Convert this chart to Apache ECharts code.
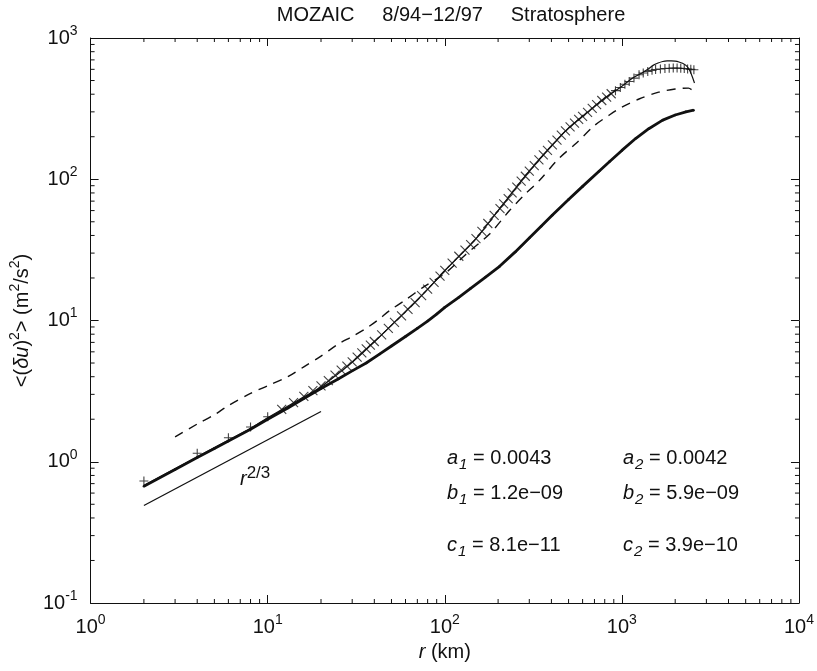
<!DOCTYPE html>
<html>
<head>
<meta charset="utf-8" />
<title>MOZAIC structure function</title>
<script src="https://cdn.jsdelivr.net/npm/echarts@6/dist/echarts.min.js"></script>
<style>
  * { margin: 0; padding: 0; }
  body { background: #fff; }
  #chart { width: 817px; height: 671px; }
</style>
</head>
<body>
<div id="chart"></div>
<script>
// --- data (r in km, values in m^2/s^2) ---
var upperR = [2, 4, 6, 8, 10, 12, 14, 16, 18, 20, 22, 24, 26, 28, 30, 32, 34, 36, 38, 40,
  44, 48, 52, 57, 62, 68, 74, 80, 87, 94, 100, 110, 120, 130, 140, 150, 162, 175, 190, 205,
  215, 228, 240, 255, 270, 285, 300, 320, 340, 360, 380, 405, 430, 455, 480, 510, 540, 570, 600, 640,
  680, 720, 770, 820, 870, 920, 980, 1040, 1100, 1170, 1250, 1320, 1400, 1480, 1550, 1650, 1750, 1850, 1950, 2050,
  2150, 2250, 2350, 2450, 2550];
var upperV = [0.73, 1.15, 1.48, 1.76, 2.08, 2.35, 2.62, 2.9, 3.19, 3.45, 3.75, 4.1, 4.45, 4.75, 5.1, 5.5, 5.9, 6.3, 6.7, 7.1,
  7.9, 8.8, 9.7, 10.8, 12.0, 13.4, 15.0, 16.7, 18.6, 20.6, 22.6, 25.5, 28.5, 31.5, 34.5, 38, 42.8, 48.6, 55.5, 62,
  67, 73, 80, 88, 97, 105, 114, 125, 137, 149, 160, 175, 189, 205, 220, 235, 250, 265, 279, 298,
  318, 338, 361, 382, 403, 424, 446, 470, 492, 520, 549, 565, 580, 590, 598, 604, 608, 610, 612, 612,
  611, 608, 604, 600, 596];

var fitR = [2, 4, 6, 8, 10, 15, 20, 30, 40, 60, 80, 100, 150, 200, 300, 400, 500, 600, 700, 800,
  900, 1000, 1150, 1300, 1400, 1500, 1600, 1700, 1800, 1900, 2000, 2100, 2200, 2300, 2400, 2480, 2570];
var fitV = [0.68, 1.08, 1.42, 1.72, 2.05, 2.75, 3.4, 5.05, 7.05, 11.6, 16.6, 22.5, 38, 60, 114, 172, 230, 279, 328, 375,
  415, 455, 520, 565, 600, 640, 665, 682, 688, 688, 685, 676, 662, 640, 600, 545, 480];

var lowerR = [2, 3, 4, 5, 6, 8, 10, 13, 16, 20, 25, 30, 36, 43, 50, 60, 70, 80, 90, 100,
  120, 140, 170, 204, 250, 300, 350, 404, 500, 600, 743, 850, 1000, 1200, 1419, 1700, 2000, 2300, 2540];
var lowerV = [0.67, 0.88, 1.07, 1.24, 1.40, 1.70, 2.0, 2.4, 2.8, 3.3, 3.85, 4.4, 5.0, 5.8, 6.6, 7.7, 8.8, 9.9, 11.1, 12.4,
  14.6, 16.9, 20.3, 24.2, 30.6, 38.4, 46.5, 55.6, 72, 89, 114, 133, 160, 195, 228, 262, 285, 300, 308];

var dashR = [3, 4, 5, 6, 8, 10, 13, 16, 20, 25, 30, 36, 42, 49, 60, 75, 100, 130, 179, 232,
  280, 342, 440, 552, 700, 850, 1000, 1250, 1614, 2000, 2378, 2480];
var dashV = [1.5, 1.85, 2.15, 2.5, 3.05, 3.45, 4.0, 4.7, 5.6, 6.8, 7.7, 8.8, 10.1, 11.8, 14, 17.1, 21.5, 29, 41, 60,
  77, 98, 140, 180, 240, 285, 324, 370, 414, 435, 442, 430];

var slopeR = [2, 20];
var slopeV = [0.49, 2.27];

var minorSteps = [2, 3, 4, 5, 6, 7, 8, 9];
var decadesX = [1, 10, 100, 1000];
var decadesY = [0.1, 1, 10, 100];

var fitParams = [
  ['a', '1', '0.0043', 'a', '2', '0.0042'],
  ['b', '1', '1.2e\u221209', 'b', '2', '5.9e\u221209'],
  ['c', '1', '8.1e\u221211', 'c', '2', '3.9e\u221210']
];

function pairs(xs, ys) {
  return xs.map(function (x, i) { return [x, ys[i]]; });
}

var FONT = 'Liberation Sans, Arial, sans-serif';
var INK = '#111';

// minor tick positions (2..9 per decade) on the four sides
var minorData = [];
decadesX.forEach(function (d) {
  minorSteps.forEach(function (m) {
    minorData.push([d * m, 0.1, 0]);
    minorData.push([d * m, 1000, 1]);
  });
});
decadesY.forEach(function (d) {
  minorSteps.forEach(function (m) {
    minorData.push([1, d * m, 2]);
    minorData.push([10000, d * m, 3]);
  });
});

function powLabel(v) {
  return '{b|10}{s|' + Math.round(Math.log10(v)) + '}';
}
var powRich = {
  b: { fontSize: 20, fontFamily: FONT, color: INK },
  s: { fontSize: 14, fontFamily: FONT, color: INK, padding: [0, 0, 14, 0] }
};

var plusPath = 'path://M0,5L10,5M5,0L5,10';
var crossPath = 'path://M0,0L10,10M10,0L0,10';

var chart = echarts.init(document.getElementById('chart'));

var option = {
  animation: false,
  title: {
    text: 'MOZAIC     8/94\u221212/97     Stratosphere',
    left: 446,
    top: 0,
    textAlign: 'center',
    textStyle: { fontSize: 20, fontWeight: 'normal', fontFamily: FONT, color: INK }
  },
  grid: { left: 89, right: 15, top: 38, bottom: 68 },
  xAxis: [{
    type: 'log', logBase: 10, min: 1, max: 10000,
    position: 'bottom',
    axisLine: { lineStyle: { color: INK, width: 1 } },
    axisTick: { inside: true, length: 8, lineStyle: { color: INK } },
    splitLine: { show: false },
    axisLabel: { formatter: powLabel, rich: powRich, margin: 10 },
    name: '{i|r}{n| (km)}',
    nameLocation: 'middle',
    nameGap: 39,
    nameTextStyle: {
      rich: {
        i: { fontSize: 20, fontStyle: 'italic', fontFamily: FONT, color: INK },
        n: { fontSize: 20, fontFamily: FONT, color: INK }
      }
    }
  }, {
    type: 'log', logBase: 10, min: 1, max: 10000,
    position: 'top',
    axisLine: { lineStyle: { color: INK, width: 1 } },
    axisTick: { inside: true, length: 8, lineStyle: { color: INK } },
    axisLabel: { show: false },
    splitLine: { show: false }
  }],
  yAxis: [{
    type: 'log', logBase: 10, min: 0.1, max: 1000,
    position: 'left',
    axisLine: { lineStyle: { color: INK, width: 1 } },
    axisTick: { inside: true, length: 8, lineStyle: { color: INK } },
    splitLine: { show: false },
    axisLabel: { formatter: powLabel, rich: powRich, margin: 13 },
    name: '{n|<(}{i|\u03b4u}{n|)}{s|2}{n|> (m}{s|2}{n|/s}{s|2}{n|)}',
    nameLocation: 'middle',
    nameGap: 48,
    nameTextStyle: {
      rich: {
        i: { fontSize: 20, fontStyle: 'italic', fontFamily: FONT, color: INK },
        n: { fontSize: 20, fontFamily: FONT, color: INK },
        s: { fontSize: 14, fontFamily: FONT, color: INK, padding: [0, 0, 14, 0] }
      }
    }
  }, {
    type: 'log', logBase: 10, min: 0.1, max: 1000,
    position: 'right',
    axisLine: { lineStyle: { color: INK, width: 1 } },
    axisTick: { inside: true, length: 8, lineStyle: { color: INK } },
    axisLabel: { show: false },
    splitLine: { show: false }
  }],
  graphic: [],
  series: [
    {
      name: 'fit 1',
      type: 'line',
      data: pairs(fitR, fitV),
      showSymbol: false,
      smooth: 0.3,
      lineStyle: { color: INK, width: 1.2 },
      z: 3
    },
    {
      name: 'data 1',
      type: 'scatter',
      data: pairs(upperR, upperV),
      symbol: function (val) {
        return (val[0] <= 10 || val[0] >= 900) ? plusPath : crossPath;
      },
      symbolSize: 9,
      itemStyle: { color: 'transparent', borderColor: INK, borderWidth: 1.1 },
      z: 4
    },
    {
      name: 'data 2',
      type: 'line',
      data: pairs(lowerR, lowerV),
      symbol: 'circle',
      symbolSize: 2.5,
      itemStyle: { color: INK },
      lineStyle: { color: INK, width: 2.8, join: 'round' },
      z: 3
    },
    {
      name: 'dashed',
      type: 'line',
      data: pairs(dashR, dashV),
      showSymbol: false,
      smooth: 0.3,
      lineStyle: { color: INK, width: 1.4, type: [9, 7] },
      z: 3
    },
    {
      name: 'r^2/3',
      type: 'line',
      data: pairs(slopeR, slopeV),
      showSymbol: false,
      lineStyle: { color: INK, width: 1.3 },
      z: 3
    },
    {
      name: 'minor ticks',
      type: 'custom',
      silent: true,
      data: minorData,
      renderItem: function (params, api) {
        var p = api.coord([api.value(0), api.value(1)]);
        var side = api.value(2);
        var len = 4;
        var x2 = p[0], y2 = p[1];
        if (side === 0) y2 = p[1] - len;
        else if (side === 1) y2 = p[1] + len;
        else if (side === 2) x2 = p[0] + len;
        else x2 = p[0] - len;
        return {
          type: 'line',
          shape: { x1: p[0], y1: p[1], x2: x2, y2: y2 },
          style: { stroke: INK, lineWidth: 1 }
        };
      }
    }
  ]
};

// text annotations
var annRich = {
  i: { fontSize: 20, fontStyle: 'italic', fontFamily: FONT, fill: INK },
  sub: { fontSize: 15, fontStyle: 'italic', fontFamily: FONT, fill: INK, padding: [14, 0, 0, 1] },
  n: { fontSize: 20, fontFamily: FONT, fill: INK }
};
var rowTops = [448, 483, 535];
var colLeft = [447, 623];
fitParams.forEach(function (row, k) {
  for (var c = 0; c < 2; c++) {
    option.graphic.push({
      type: 'text',
      left: colLeft[c],
      top: rowTops[k],
      style: {
        text: '{i|' + row[c * 3] + '}{sub|' + row[c * 3 + 1] + '}{n| = ' + row[c * 3 + 2] + '}',
        rich: annRich
      }
    });
  }
});
option.graphic.push({
  type: 'text',
  left: 240,
  top: 465,
  style: {
    text: '{i|r}{s|2/3}',
    rich: {
      i: { fontSize: 20, fontStyle: 'italic', fontFamily: FONT, fill: INK },
      s: { fontSize: 17, fontFamily: FONT, fill: INK, padding: [0, 0, 12, 0] }
    }
  }
});

chart.setOption(option);
</script>
</body>
</html>
